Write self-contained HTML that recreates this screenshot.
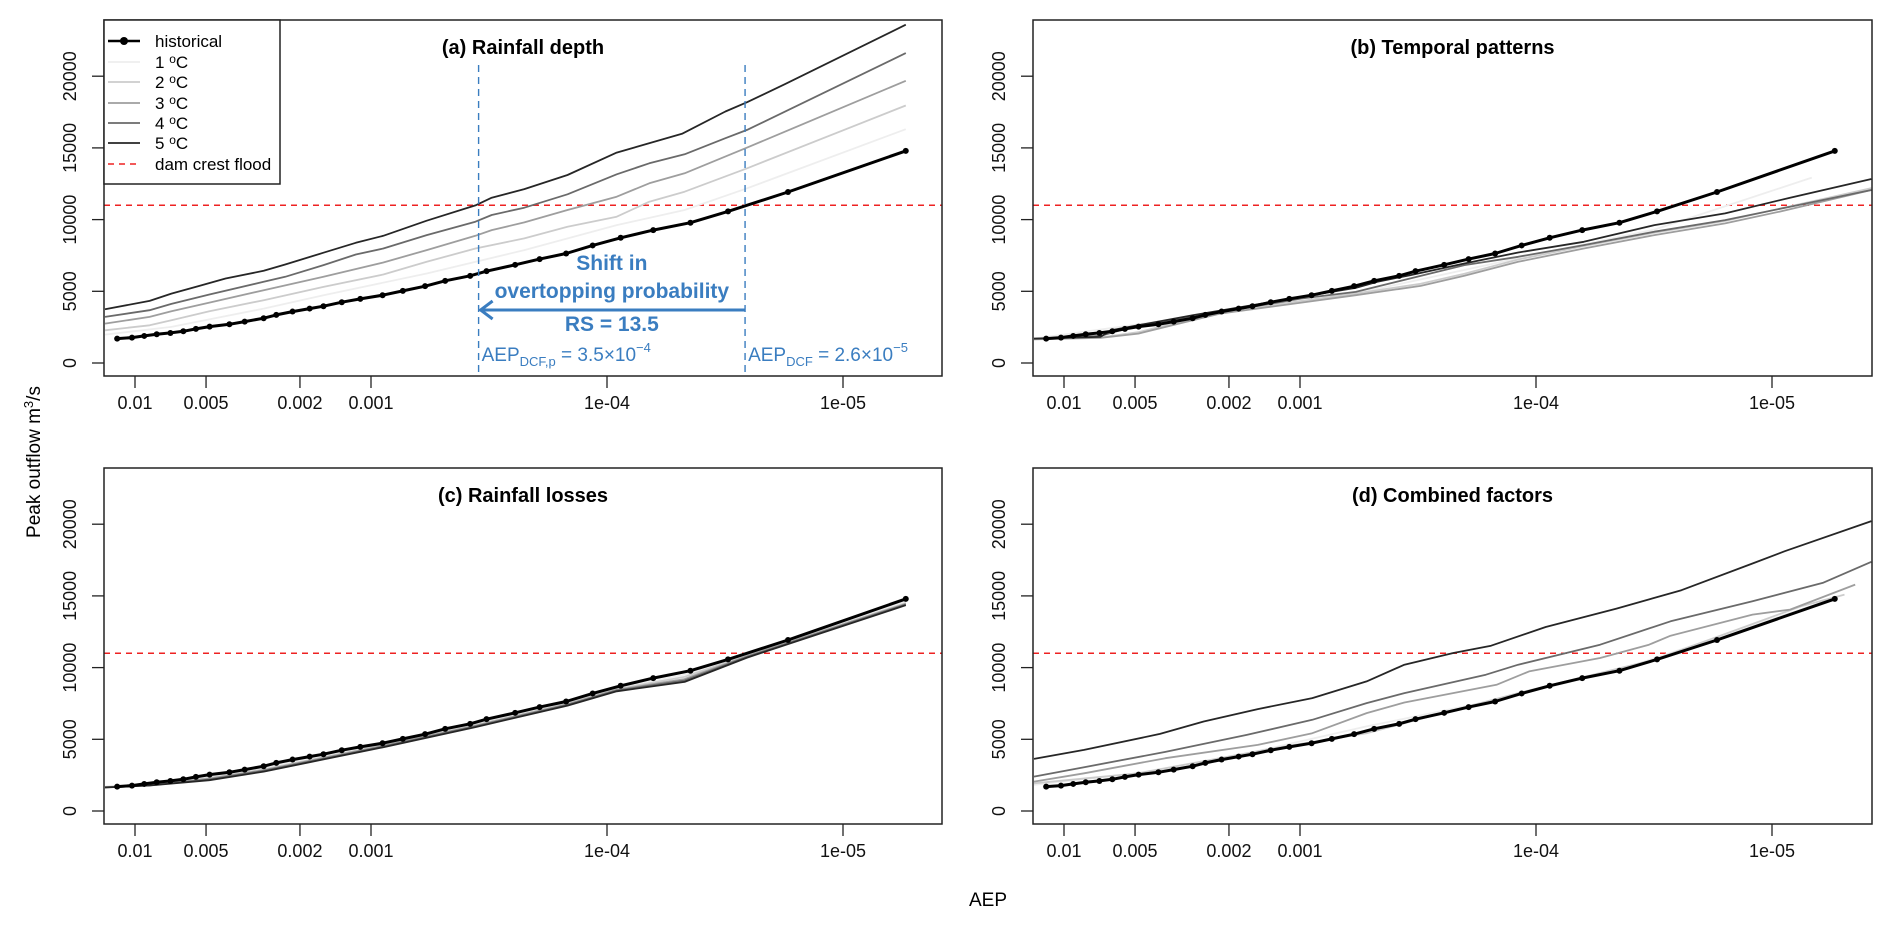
<!DOCTYPE html>
<html><head><meta charset="utf-8">
<style>
html,body{margin:0;padding:0;background:#fff;}
svg{display:block;font-family:"Liberation Sans",Arial,sans-serif;}
</style></head>
<body>
<svg id="fig" width="1892" height="930" viewBox="0 0 1892 930" xmlns="http://www.w3.org/2000/svg">
<defs>
<clipPath id="clipA"><rect x="104" y="20" width="838" height="356"/></clipPath>
<clipPath id="clipB"><rect x="1033" y="20" width="839" height="356"/></clipPath>
<clipPath id="clipC"><rect x="104" y="468" width="838" height="356"/></clipPath>
<clipPath id="clipD"><rect x="1033" y="468" width="839" height="356"/></clipPath>
</defs>
<text x="0" y="0" transform="translate(40,462) rotate(-90)" text-anchor="middle" font-size="19">Peak outflow m<tspan baseline-shift="super" font-size="13">3</tspan>/s</text>
<text x="988" y="906" text-anchor="middle" font-size="19">AEP</text>
</svg>
<script>
// ---- data ----
const historicalAep = [1.19e-2,1.03e-2,9.14e-3,8.09e-3,7.08e-3,6.24e-3,5.52e-3,4.83e-3,3.98e-3,3.43e-3,2.85e-3,2.52e-3,2.15e-3,1.82e-3,1.59e-3,1.33e-3,1.11e-3,8.93e-4,7.33e-4,5.90e-4,4.85e-4,3.80e-4,3.24e-4,2.45e-4,1.93e-4,1.49e-4,1.15e-4,8.75e-5,6.37e-5,4.43e-5,3.07e-5,1.71e-5,5.42e-6];
const historicalFlow = [1700,1770,1887,2003,2096,2213,2376,2539,2702,2888,3121,3354,3587,3796,3959,4239,4472,4728,5031,5357,5729,6079,6405,6847,7243,7639,8198,8734,9269,9782,10574,11924,14789];
const damCrestFlood = 11000;
const yTicks = [0,5000,10000,15000,20000];
const xTicks = [0.01,0.005,0.002,0.001,1e-4,1e-5];
const xTickLabels = ["0.01","0.005","0.002","0.001","1e-04","1e-05"];
const scenarioNames = ["1 °C","2 °C","3 °C","4 °C","5 °C"];
const scenarioColors = ["#eeeeee","#cccccc","#9e9e9e","#6a6a6a","#262626"];

// panel (a) rainfall depth
const aAep5 = [1.34e-2,8.67e-3,7.01e-3,5.38e-3,4.13e-3,2.85e-3,2.31e-3,1.59e-3,1.16e-3,8.87e-4,5.81e-4,3.61e-4,3.08e-4,2.24e-4,1.47e-4,9.1e-5,4.81e-5,3.15e-5,2.55e-5,1.76e-5,5.42e-6];
const aFlow5 = [3750,4330,4840,5360,5890,6430,6870,7690,8380,8870,9920,10990,11530,12130,13110,14670,15980,17540,18190,19450,23590];
const aAep4 = [1.34e-2,8.67e-3,7.01e-3,4.84e-3,2.85e-3,2.31e-3,1.59e-3,1.16e-3,8.87e-4,5.81e-4,3.61e-4,3.08e-4,2.24e-4,1.47e-4,9.1e-5,6.62e-5,4.69e-5,3.15e-5,2.55e-5,5.42e-6];
const aFlow4 = [3214,3680,4122,4774,5659,6009,6824,7569,7988,8920,9852,10318,10830,11762,13159,13927,14556,15674,16256,21613];
const aAep3 = [1.34e-2,8.67e-3,7.01e-3,4.84e-3,2.85e-3,1.59e-3,8.87e-4,5.81e-4,3.61e-4,3.08e-4,2.24e-4,1.47e-4,9.1e-5,6.62e-5,4.69e-5,2.55e-5,5.42e-6];
const aFlow3 = [2748,3214,3610,4215,5077,6009,7010,7872,8873,9269,9805,10667,11598,12530,13229,15022,19680];
const aAep2 = [1.34e-2,8.67e-3,7.01e-3,4.84e-3,2.85e-3,1.59e-3,8.87e-4,5.81e-4,3.61e-4,2.24e-4,1.47e-4,9.1e-5,6.62e-5,4.69e-5,2.55e-5,5.42e-6];
const aFlow2 = [2282,2632,2981,3610,4379,5310,6172,7057,7988,8687,9502,10201,11249,11948,13578,17957];
const aAep1 = [1.34e-2,7.01e-3,2.85e-3,1.59e-3,5.81e-4,2.24e-4,9.1e-5,4.69e-5,2.55e-5,5.42e-6];
const aFlow1 = [1980,2515,3796,4728,6242,7872,9619,10667,12181,16303];

// panel (b) temporal patterns
const bAep5 = [1.34e-2,7.01e-3,6.31e-3,2.85e-3,9.86e-4,5.81e-4,4.70e-4,3.42e-4,2.01e-4,1.19e-4,6.27e-5,3.15e-5,1.58e-5,8.38e-6,3.79e-6];
const bFlow5 = [1700,1817,2282,3330,4611,5240,5659,6125,6940,7709,8454,9619,10434,11529,12833];
const bAep4 = [1.34e-2,7.01e-3,4.84e-3,2.85e-3,9.86e-4,5.81e-4,3.42e-4,2.01e-4,1.19e-4,6.27e-5,3.15e-5,1.58e-5,8.38e-6,3.79e-6];
const bFlow4 = [1700,1887,2632,3214,4495,4961,5892,6824,7406,8221,9153,9968,10900,12064];
const bAep3 = [1.34e-2,7.01e-3,4.84e-3,2.85e-3,2.18e-3,9.86e-4,5.81e-4,3.08e-4,2.01e-4,1.19e-4,6.27e-5,3.15e-5,1.58e-5,9.31e-6,3.79e-6];
const bFlow3 = [1654,1747,2050,2981,3447,4215,4728,5380,6079,7057,7988,8920,9735,10550,12064];
const bFlow2 = [1680,1780,2150,3080,3560,4330,4850,5520,6230,7220,8150,9080,9900,10750,12200];
const bAep1 = [1.34e-2,2.85e-3,5.81e-4,1.19e-4,3.15e-5,6.78e-6];
const bFlow1 = [1700,3214,4850,7300,9300,12926];

// panel (c) rainfall losses
const cAep = [1.34e-2,8.67e-3,4.84e-3,2.85e-3,1.59e-3,8.87e-4,3.61e-4,1.47e-4,9.1e-5,4.69e-5,2.55e-5,5.42e-6];
const cFlow1 = [1700,1850,2400,3000,3850,4650,6050,7550,8550,9500,10900,14600];
const cFlow2 = [1680,1820,2300,2900,3750,4600,6000,7500,8500,9350,10850,14500];
const cFlow3 = [1660,1800,2250,2850,3700,4550,5950,7450,8450,9200,10800,14450];
const cFlow4 = [1650,1790,2200,2800,3650,4500,5900,7400,8400,9100,10750,14400];
const cFlow5 = [1640,1780,2150,2750,3600,4450,5850,7350,8350,9000,10700,14350];

// panel (d) combined factors
const dAep5 = [1.34e-2,8.22e-3,3.92e-3,2.56e-3,1.51e-3,8.87e-4,5.22e-4,3.61e-4,2.24e-4,1.55e-4,9.1e-5,4.56e-5,2.42e-5,1.21e-5,8.83e-6,3.79e-6];
const dFlow5 = [3633,4262,5380,6242,7103,7872,9036,10201,11016,11529,12833,14114,15395,17259,18120,20216];
const dAep4 = [1.34e-2,8.22e-3,3.72e-3,1.68e-3,8.87e-4,5.22e-4,3.61e-4,1.63e-4,1.19e-4,5.35e-5,2.69e-5,1.21e-5,6.1e-6,3.79e-6];
const dFlow4 = [2399,3051,4122,5310,6358,7523,8221,9502,10201,11598,13229,14626,15907,17375];
const dAep3 = [1.34e-2,8.22e-3,3.72e-3,1.51e-3,8.87e-4,5.22e-4,3.61e-4,1.47e-4,1.07e-4,5.35e-5,3.32e-5,2.69e-5,1.21e-5,8.38e-6,4.44e-6];
const dFlow3 = [2050,2632,3680,4611,5427,6824,7569,8804,9735,10667,11598,12227,13694,14043,15790];
const dAep2 = [1.34e-2,4.84e-3,1.36e-3,5.22e-4,1.19e-4,3.15e-5,7.53e-6,4.93e-6];
const dFlow2 = [1933,2632,4309,5427,8221,10550,14276,15092];
const dAep1 = [1.34e-2,4.84e-3,1.59e-3,5.22e-4,1.47e-4,4.43e-5,1.71e-5,5.9e-6];
const dFlow1 = [1820,2650,4100,5900,7750,9850,12100,14650];

// panel (a) annotations
const aepDcfP = 3.5e-4;
const aepDcf = 2.6e-5;

// ---- drawing ----
const NS = "http://www.w3.org/2000/svg";
const svg = document.getElementById('fig');
function mk(tag, attrs, parent) {
  const e = document.createElementNS(NS, tag);
  for (const k in attrs) e.setAttribute(k, attrs[k]);
  (parent || svg).appendChild(e);
  return e;
}
const panels = [
  {id:'a', left:104, top:20, width:838, clip:'clipA', title:'(a) Rainfall depth'},
  {id:'b', left:1033, top:20, width:839, clip:'clipB', title:'(b) Temporal patterns'},
  {id:'c', left:104, top:468, width:838, clip:'clipC', title:'(c) Rainfall losses'},
  {id:'d', left:1033, top:468, width:839, clip:'clipD', title:'(d) Combined factors'}
];
const PH = 356, DEC = 236;
function xs(p, aep) { return p.left + 31 + (-2 - Math.log10(aep)) * DEC; }
function ys(p, v) { return p.top + 343 - v * 0.01434; }
function lineD(p, xArr, yArr) {
  return xArr.map((a, i) => (i ? 'L' : 'M') + xs(p, a).toFixed(1) + ',' + ys(p, yArr[i]).toFixed(1)).join(' ');
}

const panelSeries = {
  a: [[aAep1,aFlow1],[aAep2,aFlow2],[aAep3,aFlow3],[aAep4,aFlow4],[aAep5,aFlow5]],
  b: [[bAep1,bFlow1],[bAep3,bFlow2],[bAep3,bFlow3],[bAep4,bFlow4],[bAep5,bFlow5]],
  c: [[cAep,cFlow1],[cAep,cFlow2],[cAep,cFlow3],[cAep,cFlow4],[cAep,cFlow5]],
  d: [[dAep1,dFlow1],[dAep2,dFlow2],[dAep3,dFlow3],[dAep4,dFlow4],[dAep5,dFlow5]]
};

panels.forEach(p => {
  const g = mk('g', {});
  
  
  yTicks.forEach(t => {
    const y = ys(p, t);
    const tk = mk('line', {x1:p.left-12, x2:p.left, y1:y, y2:y, stroke:'#222', 'stroke-width':1.3}, g);
    
    
    const lx = p.left - 28;
    const tl = mk('text', {x:0, y:0, transform:`translate(${lx},${y}) rotate(-90)`, 'text-anchor':'middle', 'font-size':18, fill:'#111'}, g);
    tl.textContent = String(t);
    
    
  });
  xTicks.forEach((t, i) => {
    const x = xs(p, t);
    const tk = mk('line', {x1:x, x2:x, y1:p.top+PH, y2:p.top+PH+12, stroke:'#222', 'stroke-width':1.3}, g);
    
    
    const tl = mk('text', {x:x, y:p.top+PH+33, 'text-anchor':'middle', 'font-size':18, fill:'#111'}, g);
    tl.textContent = xTickLabels[i];
    
    
  });
  const pg = mk('g', {'clip-path':'url(#' + p.clip + ')'}, g);
  
  
  const dl = mk('line', {x1:p.left, x2:p.left+p.width, y1:ys(p,damCrestFlood), y2:ys(p,damCrestFlood), stroke:'#ee2222', 'stroke-width':1.6, 'stroke-dasharray':'6,5'}, pg);
  
  
  panelSeries[p.id].forEach((s, i) => {
    const pl = mk('path', {d:lineD(p, s[0], s[1]), fill:'none', stroke:scenarioColors[i], 'stroke-width':1.8, 'stroke-linejoin':'round'}, pg);
    
    
  });
  const hl = mk('path', {d:lineD(p, historicalAep, historicalFlow), fill:'none', stroke:'#000', 'stroke-width':3, 'stroke-linejoin':'round'}, pg);
  
  
  historicalAep.forEach((a, i) => {
    const c = mk('circle', {cx:xs(p,a), cy:ys(p,historicalFlow[i]), r:3, fill:'#000'}, pg);
    
    
  });
  const fr = mk('rect', {x:p.left, y:p.top, width:p.width, height:PH, fill:'none', stroke:'#222', 'stroke-width':1.5}, g);
  
  
  const ti = mk('text', {x:p.left+p.width/2, y:p.top+34, 'text-anchor':'middle', 'font-size':20, 'font-weight':'bold', fill:'#000'}, g);
  ti.textContent = p.title;
  
  
});

const pa = panels[0];
const blue = '#3a7dc0';
const ann = mk('g', {fill:blue});


[aepDcfP, aepDcf].forEach(v => {
  const x = xs(pa, v);
  const vl = mk('line', {x1:x, x2:x, y1:65, y2:376, stroke:blue, 'stroke-width':1.4, 'stroke-dasharray':'7,5'}, ann);
  
  
});
const x1 = xs(pa, aepDcf), x0 = xs(pa, aepDcfP);
const ar = mk('path', {d:`M${x1},310 L${x0+2},310 M${x0+14},301 L${x0+2},310 L${x0+14},319`, stroke:blue, 'stroke-width':3, fill:'none'}, ann);


const cx = (x0 + x1) / 2;
[['Shift in',270],['overtopping probability',298],['RS = 13.5',331]].forEach(t => {
  const e = mk('text', {x:cx, y:t[1], 'text-anchor':'middle', 'font-size':21, 'font-weight':'bold', fill:blue}, ann);
  e.textContent = t[0];
  
  
});
const t1 = mk('text', {x:x0+3, y:361, 'font-size':19, fill:blue}, ann);
t1.innerHTML = 'AEP<tspan font-size="13" dy="5">DCF,p</tspan><tspan dy="-5"> = 3.5×10</tspan><tspan font-size="13" dy="-9">−4</tspan>';


const t2 = mk('text', {x:x1+3, y:361, 'font-size':19, fill:blue}, ann);
t2.innerHTML = 'AEP<tspan font-size="13" dy="5">DCF</tspan><tspan dy="-5"> = 2.6×10</tspan><tspan font-size="13" dy="-9">−5</tspan>';



const lg = mk('g', {});


const lb = mk('rect', {x:104, y:20, width:176, height:164, fill:'#fff', stroke:'#222', 'stroke-width':1.5}, lg);


const legY = [41,62,82,103,123,143,164];
const hh = mk('line', {x1:108, x2:140, y1:legY[0], y2:legY[0], stroke:'#000', 'stroke-width':2.5}, lg);


const hc = mk('circle', {cx:124, cy:legY[0], r:4, fill:'#000'}, lg);


const ht = mk('text', {x:155, y:legY[0]+6, 'font-size':17}, lg);
ht.textContent = 'historical';


scenarioNames.forEach((n, i) => {
  const y = legY[i+1];
  const l = mk('line', {x1:108, x2:140, y1:y, y2:y, stroke:scenarioColors[i], 'stroke-width':1.8}, lg);
  
  
  const t = mk('text', {x:155, y:y+6, 'font-size':17}, lg);
  t.innerHTML = n.split(' ')[0] + ' <tspan font-size="12" dy="-5">o</tspan><tspan dy="5">C</tspan>';
  
  
});
const dl2 = mk('line', {x1:108, x2:140, y1:legY[6], y2:legY[6], stroke:'#ee2222', 'stroke-width':1.6, 'stroke-dasharray':'6,5'}, lg);


const dt = mk('text', {x:155, y:legY[6]+6, 'font-size':17}, lg);
dt.textContent = 'dam crest flood';


</script>
</body></html>
